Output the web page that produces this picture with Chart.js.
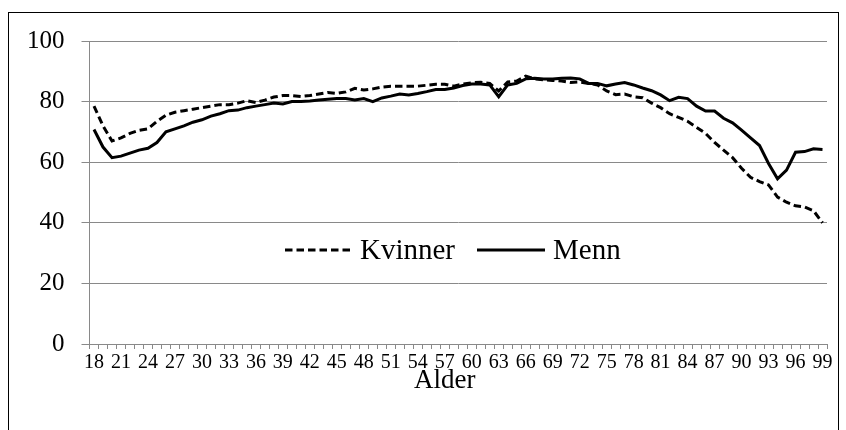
<!DOCTYPE html>
<html>
<head>
<meta charset="utf-8">
<script src="https://cdn.jsdelivr.net/npm/chart.js@4"></script>
<style>
  body { margin: 0; background: #fff; }
  #ramme { position: absolute; left: 8px; top: 12px; width: 829px; height: 430px; border: 1px solid #000; }
  #wrap { position: absolute; left: 0; top: 0; width: 846px; height: 430px; }
</style>
</head>
<body>
<div id="ramme"></div>
<div id="wrap"><canvas id="ChartAlder"></canvas></div>
<script>
const alder = [];
for (let a = 18; a <= 99; a++) alder.push(String(a));

const kvinner = [
  78.5, 72, 67, 68, 69.5, 70.5, 71, 73.5, 75.5, 76.5,   // 18-27
  77, 77.5, 78, 78.5, 79, 79, 79.5, 80.3, 79.7, 80.5,   // 28-37
  81.5, 82, 82, 81.7, 82, 82.5, 83, 82.7, 83.2, 84.4,   // 38-47
  83.8, 84.2, 84.8, 85.1, 85.1, 85.1, 85.1, 85.4, 85.7, 85.7, // 48-57
  85.1, 85.8, 86.2, 86.4, 86, 83.5, 86.5, 86.8, 88.4, 87.5,   // 58-67
  87.2, 87, 86.8, 86.3, 86.5, 86, 85.5, 83.5, 82.3, 82.5,     // 68-77
  81.6, 81.3, 79.5, 78, 76, 74.8, 73.5, 71.5, 69.5, 66.5,     // 78-87
  64, 61.5, 58, 55, 53.6, 52.5, 48.5, 46.8, 45.6, 45.2,       // 88-97
  44, 40                                                      // 98-99
];

const menn = [
  70.8, 65, 61.5, 62, 63, 64, 64.6, 66.5, 70, 71,       // 18-27
  72, 73.2, 74, 75.2, 76, 77, 77.2, 78, 78.5, 79,       // 28-37
  79.5, 79.2, 80, 80, 80.2, 80.5, 80.8, 81, 81, 80.5,   // 38-47
  81, 80, 81.2, 81.8, 82.5, 82.2, 82.7, 83.3, 84, 84,   // 48-57
  84.5, 85.3, 85.8, 85.8, 85.5, 81.6, 85.5, 86, 87.5, 87.7, // 58-67
  87.5, 87.5, 87.7, 87.8, 87.5, 86, 86, 85.2, 85.8, 86.3,   // 68-77
  85.5, 84.5, 83.6, 82.2, 80.3, 81.4, 81, 78.5, 76.9, 76.9, // 78-87
  74.5, 73, 70.6, 68, 65.5, 59.6, 54.5, 57.4, 63.3, 63.5,   // 88-97
  64.4, 64.2                                                // 98-99
];

const yTicks = [0, 20, 40, 60, 80, 100];

const serif = "'Liberation Serif', 'Times New Roman', serif";
const grå = '#898989';

// legenden ligger inne i plottet, tegnes for hand
const legendeInne = {
  id: 'legendeInne',
  afterDatasetsDraw(chart) {
    const c = chart.ctx;
    const y = 250;
    c.save();
    c.strokeStyle = '#000';
    c.lineWidth = 3;
    c.setLineDash([7.5, 4]);
    c.beginPath(); c.moveTo(285, y); c.lineTo(353, y); c.stroke();
    c.setLineDash([]);
    c.beginPath(); c.moveTo(477, y); c.lineTo(545, y); c.stroke();
    c.fillStyle = '#000';
    c.font = '29px ' + serif;
    c.textBaseline = 'middle';
    c.textAlign = 'left';
    c.fillText(chart.data.datasets[0].label, 360, y + 1);
    c.fillText(chart.data.datasets[1].label, 553, y + 1);
    c.restore();
  }
};

new Chart(document.getElementById('ChartAlder'), {
  type: 'line',
  data: {
    labels: alder,
    datasets: [{
      label: 'Kvinner',
      data: kvinner,
      borderColor: '#000',
      borderWidth: 3,
      borderDash: [7.5, 4],
      pointRadius: 0,
      tension: 0
    }, {
      label: 'Menn',
      data: menn,
      borderColor: '#000',
      borderWidth: 3,
      pointRadius: 0,
      tension: 0
    }]
  },
  options: {
    responsive: true,
    maintainAspectRatio: false,
    animation: false,
    layout: { padding: { left: 10, right: 19, top: 41, bottom: 36 } },
    plugins: {
      legend: { display: false },
      tooltip: { enabled: false }
    },
    scales: {
      x: {
        offset: true,
        afterFit: (s) => { s.height = 50; },
        grid: { offset: true, drawOnChartArea: false, drawTicks: true, tickLength: 5, color: grå },
        border: { color: grå, width: 1 },
        ticks: {
          autoSkip: false,
          maxRotation: 0,
          padding: 9,
          color: '#000',
          font: { family: serif, size: 20, lineHeight: 0.5 },
          callback: (v, i) => (i % 3 === 0 ? alder[i] : '')
        },
        title: {
          display: true,
          text: 'Alder    ',
          color: '#000',
          padding: { top: 0, bottom: 0 },
          font: { family: serif, size: 27, lineHeight: 1 }
        }
      },
      y: {
        min: yTicks[0],
        max: yTicks[yTicks.length - 1],
        afterBuildTicks: (s) => { s.ticks = yTicks.map(v => ({ value: v })); },
        grid: { color: grå, tickLength: 8 },
        border: { color: grå, width: 1 },
        ticks: {
          padding: 17,
          color: '#000',
          font: { family: serif, size: 25 }
        }
      }
    }
  },
  plugins: [legendeInne]
});
</script>
</body>
</html>
